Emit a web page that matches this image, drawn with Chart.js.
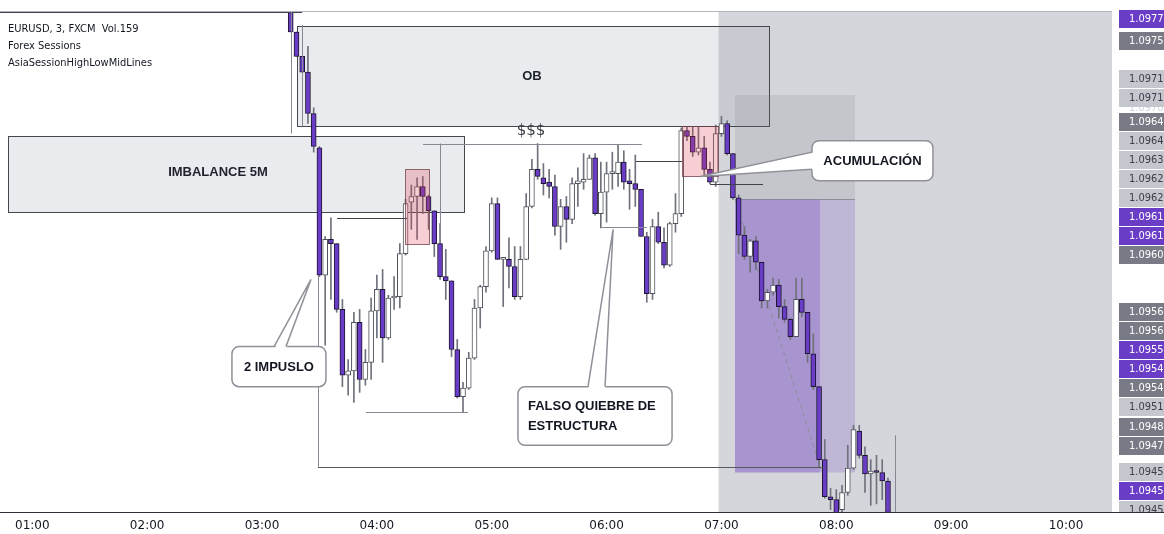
<!DOCTYPE html>
<html>
<head>
<meta charset="utf-8">
<script src="https://cdn.jsdelivr.net/npm/chart.js@4.4.1/dist/chart.umd.min.js"></script>
<style>
  html, body { margin: 0; padding: 0; background: #ffffff; }
  canvas { display: block; }
</style>
</head>
<body>
<canvas id="grafico" width="1164" height="534"></canvas>
<script>
// EURUSD 3 min, velas desde las 03:15
const inicio = 195; // minutos desde 00:00
const paso = 3;

const apertura = [
  1.09770, 1.09756, 1.09739, 1.09728, 1.09699, 1.09675, 1.09586, 1.09611, 1.09608, 1.09562,
  1.09516, 1.09519, 1.09553, 1.09513, 1.09525, 1.09561, 1.09576, 1.09542, 1.09570, 1.09571,
  1.09601, 1.09637, 1.09641, 1.09648, 1.09641, 1.09631, 1.09608, 1.09585, 1.09582, 1.09534,
  1.09501, 1.09507, 1.09528, 1.09563, 1.09578, 1.09603, 1.09636, 1.09597, 1.09597, 1.09592,
  1.09571, 1.09597, 1.09634, 1.09660, 1.09654, 1.09651, 1.09648, 1.09620, 1.09634, 1.09625,
  1.09650, 1.09651, 1.09653, 1.09668, 1.09629, 1.09644, 1.09657, 1.09657, 1.09665, 1.09652,
  1.09650, 1.09646, 1.09613, 1.09573, 1.09620, 1.09609, 1.09593, 1.09622, 1.09629, 1.09687,
  1.09683, 1.09672, 1.09675, 1.09660, 1.09651, 1.09685, 1.09692, 1.09671, 1.09640, 1.09614,
  1.09599, 1.09610, 1.09595, 1.09568, 1.09574, 1.09579, 1.09564, 1.09555, 1.09543, 1.09569,
  1.09560, 1.09531, 1.09508, 1.09457, 1.09431, 1.09429, 1.09422, 1.09434, 1.09451, 1.09477,
  1.09460, 1.09447, 1.09449, 1.09448, 1.09442
];
const maximo = [
  1.09772, 1.09756, 1.09739, 1.09746, 1.09703, 1.09676, 1.09613, 1.09626, 1.09608, 1.09569,
  1.09527, 1.09560, 1.09562, 1.09534, 1.09570, 1.09586, 1.09590, 1.09572, 1.09585, 1.09608,
  1.09639, 1.09649, 1.09654, 1.09655, 1.09642, 1.09631, 1.09622, 1.09604, 1.09582, 1.09541,
  1.09511, 1.09532, 1.09569, 1.09579, 1.09606, 1.09640, 1.09640, 1.09598, 1.09612, 1.09606,
  1.09606, 1.09643, 1.09667, 1.09678, 1.09664, 1.09660, 1.09656, 1.09639, 1.09641, 1.09654,
  1.09661, 1.09671, 1.09670, 1.09671, 1.09665, 1.09665, 1.09672, 1.09677, 1.09673, 1.09660,
  1.09670, 1.09646, 1.09616, 1.09625, 1.09630, 1.09619, 1.09623, 1.09643, 1.09689, 1.09690,
  1.09690, 1.09690, 1.09683, 1.09665, 1.09691, 1.09697, 1.09694, 1.09671, 1.09642, 1.09620,
  1.09611, 1.09613, 1.09595, 1.09576, 1.09584, 1.09583, 1.09569, 1.09556, 1.09584, 1.09584,
  1.09560, 1.09545, 1.09508, 1.09471, 1.09437, 1.09436, 1.09439, 1.09467, 1.09481, 1.09481,
  1.09466, 1.09457, 1.09460, 1.09457, 1.09444
];
const minimo = [
  1.09756, 1.09739, 1.09728, 1.09692, 1.09672, 1.09585, 1.09537, 1.09569, 1.09560, 1.09508,
  1.09502, 1.09497, 1.09504, 1.09509, 1.09513, 1.09542, 1.09525, 1.09541, 1.09562, 1.09563,
  1.09600, 1.09618, 1.09611, 1.09629, 1.09618, 1.09599, 1.09583, 1.09569, 1.09529, 1.09500,
  1.09490, 1.09506, 1.09527, 1.09549, 1.09574, 1.09602, 1.09597, 1.09564, 1.09577, 1.09569,
  1.09569, 1.09597, 1.09633, 1.09653, 1.09642, 1.09640, 1.09614, 1.09604, 1.09609, 1.09622,
  1.09634, 1.09646, 1.09653, 1.09628, 1.09619, 1.09623, 1.09646, 1.09648, 1.09646, 1.09632,
  1.09634, 1.09613, 1.09567, 1.09569, 1.09608, 1.09591, 1.09592, 1.09616, 1.09627, 1.09680,
  1.09669, 1.09670, 1.09656, 1.09650, 1.09648, 1.09683, 1.09670, 1.09639, 1.09601, 1.09597,
  1.09588, 1.09590, 1.09563, 1.09563, 1.09572, 1.09556, 1.09553, 1.09541, 1.09543, 1.09557,
  1.09525, 1.09506, 1.09452, 1.09430, 1.09422, 1.09418, 1.09420, 1.09432, 1.09450, 1.09458,
  1.09434, 1.09425, 1.09426, 1.09429, 1.09418
];
const cierre = [
  1.09756, 1.09739, 1.09728, 1.09699, 1.09676, 1.09586, 1.09611, 1.09608, 1.09562, 1.09516,
  1.09519, 1.09553, 1.09513, 1.09525, 1.09561, 1.09576, 1.09542, 1.09570, 1.09571, 1.09601,
  1.09636, 1.09641, 1.09648, 1.09641, 1.09631, 1.09608, 1.09585, 1.09582, 1.09534, 1.09501,
  1.09507, 1.09528, 1.09563, 1.09578, 1.09603, 1.09636, 1.09597, 1.09598, 1.09592, 1.09571,
  1.09597, 1.09634, 1.09660, 1.09655, 1.09650, 1.09648, 1.09620, 1.09634, 1.09625, 1.09650,
  1.09652, 1.09653, 1.09668, 1.09629, 1.09644, 1.09657, 1.09658, 1.09665, 1.09651, 1.09650,
  1.09646, 1.09613, 1.09573, 1.09620, 1.09609, 1.09593, 1.09622, 1.09629, 1.09687, 1.09683,
  1.09672, 1.09675, 1.09660, 1.09651, 1.09685, 1.09692, 1.09671, 1.09640, 1.09614, 1.09599,
  1.09610, 1.09595, 1.09568, 1.09574, 1.09579, 1.09564, 1.09555, 1.09543, 1.09569, 1.09560,
  1.09531, 1.09508, 1.09457, 1.09431, 1.09429, 1.09419, 1.09434, 1.09451, 1.09478, 1.09460,
  1.09447, 1.09449, 1.09448, 1.09442, 1.09420
];

// eje de tiempo
const horas = [60, 120, 180, 240, 300, 360, 420, 480, 540, 600];
const etiquetasHoras = ['01:00', '02:00', '03:00', '04:00', '05:00', '06:00', '07:00', '08:00', '09:00', '10:00'];

// etiquetas del eje de precios
const preciosEtiquetas = [1.09770, 1.09750, 1.09712, 1.09710, 1.09703, 1.09639, 1.09637, 1.09630, 1.09622, 1.09618,
  1.09612, 1.09608, 1.09600, 1.09560, 1.09558, 1.09551, 1.09542, 1.09538, 1.09510, 1.09480,
  1.09470, 1.09448, 1.09447, 1.09446];
const tiposEtiquetas = ['morado', 'gris', 'claro', 'claro', 'oculta', 'gris', 'claro', 'claro', 'claro', 'claro',
  'morado', 'morado', 'gris', 'gris', 'gris', 'morado', 'morado', 'gris', 'claro', 'gris',
  'gris', 'claro', 'morado', 'claro'];
const precioAncla = 1.0958;

const MORADO = '#6a3dc6';
const tiempos = apertura.map((_, i) => inicio + i * paso);
const bajista = i => cierre[i] < apertura[i];

const FUENTE = "'Liberation Sans', Arial, sans-serif";

function linea(ctx, x0, y0, x1, y1, color, ancho) {
  ctx.beginPath();
  ctx.strokeStyle = color;
  ctx.lineWidth = ancho || 1;
  ctx.moveTo(x0, y0);
  ctx.lineTo(x1, y1);
  ctx.stroke();
}

function globo(chart, g) {
  const { ctx, scales: { x, y } } = chart;
  const x0 = x.getPixelForValue(g.t0), x1 = x.getPixelForValue(g.t1);
  const y0 = y.getPixelForValue(g.p0), y1 = y.getPixelForValue(g.p1);
  const ax = x.getPixelForValue(g.cola.t), ay = y.getPixelForValue(g.cola.p);
  let b0, b1, d0, d1;
  if (g.cola.lado === 'arriba') {
    b0 = [x.getPixelForValue(g.cola.b0), y0];
    b1 = [x.getPixelForValue(g.cola.b1), y0];
    d0 = [b0[0], y0 + 3];
    d1 = [b1[0], y0 + 3];
  } else {
    b0 = [x0, y.getPixelForValue(g.cola.b0)];
    b1 = [x0, y.getPixelForValue(g.cola.b1)];
    d0 = [x0 + 3, b0[1]];
    d1 = [x0 + 3, b1[1]];
  }
  ctx.save();
  ctx.fillStyle = '#ffffff';
  ctx.strokeStyle = '#8f9199';
  ctx.lineWidth = 1.5;
  ctx.beginPath();
  ctx.roundRect(x0, y0, x1 - x0, y1 - y0, 7);
  ctx.fill();
  ctx.stroke();
  ctx.beginPath();
  ctx.moveTo(d0[0], d0[1]);
  ctx.lineTo(ax, ay);
  ctx.lineTo(d1[0], d1[1]);
  ctx.closePath();
  ctx.fill();
  ctx.beginPath();
  ctx.moveTo(b0[0], b0[1]);
  ctx.lineTo(ax, ay);
  ctx.lineTo(b1[0], b1[1]);
  ctx.stroke();
  ctx.fillStyle = '#131722';
  ctx.font = 'bold 13px ' + FUENTE;
  ctx.textBaseline = 'middle';
  const cy = (y0 + y1) / 2;
  const n = g.texto.length;
  g.texto.forEach((t, i) => {
    const ty = cy + (i - (n - 1) / 2) * 20;
    if (g.alinear === 'izq') {
      ctx.textAlign = 'left';
      ctx.fillText(t, x0 + 10, ty);
    } else {
      ctx.textAlign = 'center';
      ctx.fillText(t, (x0 + x1) / 2, ty + 1);
    }
  });
  ctx.restore();
}

const dibujos = {
  id: 'dibujos',
  beforeDatasetsDraw(chart) {
    const { ctx, chartArea: a, scales: { x, y } } = chart;
    const X = v => x.getPixelForValue(v);
    const Y = v => y.getPixelForValue(v);
    ctx.save();
    ctx.beginPath();
    ctx.rect(a.left, a.top, a.right - a.left, a.bottom - a.top);
    ctx.clip();

    // sesión de Londres (desde las 07:00)
    const xz = X(418.5);
    ctx.fillStyle = 'rgba(178,181,190,0.55)';
    ctx.fillRect(xz, a.top, a.right - xz, a.bottom - a.top);

    // cajas grises
    const cajas = [
      [47.3, 285.5, 1.09683, 1.09630],  // imbalance 5M
      [198.3, 444.8, 1.09760, 1.09690]  // OB
    ];
    cajas.forEach(c => {
      const x0 = Math.round(X(c[0])) + 0.5, x1 = Math.round(X(c[1])) + 0.5;
      const y0 = Math.round(Y(c[2])) + 0.5, y1 = Math.round(Y(c[3])) + 0.5;
      ctx.fillStyle = 'rgba(140,143,160,0.18)';
      ctx.fillRect(x0, y0, x1 - x0, y1 - y0);
      ctx.strokeStyle = '#45474f';
      ctx.lineWidth = 1;
      ctx.strokeRect(x0, y0, x1 - x0, y1 - y0);
    });

    // posición corta
    const p0 = X(427.1), p1 = X(489.8), pm = X(471.5);
    const ye = Y(1.09639), ys = Y(1.09712), yo = Y(1.09448);
    ctx.fillStyle = 'rgba(120,123,134,0.18)';
    ctx.fillRect(p0, ys, p1 - p0, ye - ys);
    ctx.fillStyle = 'rgba(126,87,194,0.26)';
    ctx.fillRect(p0, ye, p1 - p0, yo - ye);
    ctx.fillStyle = 'rgba(126,87,194,0.35)';
    ctx.fillRect(p0, ye, pm - p0, yo - ye);
    linea(ctx, p0, Math.round(ye) + 0.5, p1, Math.round(ye) + 0.5, 'rgba(120,123,134,0.7)', 1);
    ctx.setLineDash([4, 4]);
    linea(ctx, X(427.1), ye, X(472.0), Y(1.09450), '#8a8d96', 1);
    ctx.setLineDash([]);
    ctx.restore();
  },
  afterDatasetsDraw(chart) {
    const { ctx, chartArea: a, scales: { x, y } } = chart;
    const X = v => x.getPixelForValue(v);
    const Y = v => y.getPixelForValue(v);
    const R = v => Math.round(v) + 0.5;
    ctx.save();
    ctx.beginPath();
    ctx.rect(a.left, a.top - 1, a.right - a.left, a.bottom - a.top + 1);
    ctx.clip();

    // cajas rosadas
    [[254.7, 267.2, 1.09660, 1.09608], [399.4, 418.2, 1.09690, 1.09655]].forEach(c => {
      const x0 = R(X(c[0])), x1 = R(X(c[1])), y0 = R(Y(c[2])), y1 = R(Y(c[3]));
      ctx.fillStyle = 'rgba(225,60,80,0.25)';
      ctx.fillRect(x0, y0, x1 - x0, y1 - y0);
      ctx.strokeStyle = 'rgba(110,60,68,0.75)';
      ctx.lineWidth = 1;
      ctx.strokeRect(x0, y0, x1 - x0, y1 - y0);
    });

    // líneas
    const oscuro = '#3f424b', gris = '#868993';
    linea(ctx, a.left, R(a.top) - 1, a.right, R(a.top) - 1, '#b2b5be', 1);
    const lineas = [
      [x.min, 1.09770, 201.0, 1.09770, oscuro],
      [195.1, 1.09770, 195.1, 1.09685, gris],
      [200.9, 1.09761, 200.9, 1.09690, gris],
      [219.2, 1.09626, 255.7, 1.09626, oscuro],
      [264.1, 1.09678, 378.5, 1.09678, gris],
      [273.0, 1.09678, 273.0, 1.09611, gris],
      [375.4, 1.09666, 399.4, 1.09666, oscuro],
      [357.6, 1.09620, 381.1, 1.09620, gris],
      [234.3, 1.09490, 287.6, 1.09490, gris],
      [209.2, 1.09452, 474.6, 1.09452, '#55585f'],
      [209.2, 1.09586, 209.2, 1.09452, gris],
      [414.0, 1.09650, 441.7, 1.09650, oscuro],
      [510.7, 1.09474, 510.7, 1.09420, gris]
    ];
    lineas.forEach(l => {
      const x0 = X(l[0]), x1 = X(l[2]), y0 = Y(l[1]), y1 = Y(l[3]);
      if (y0 === y1) linea(ctx, x0, R(y0), x1, R(y1), l[4], 1);
      else linea(ctx, R(x0), y0, R(x1), y1, l[4], 1);
    });

    // textos
    ctx.fillStyle = '#1e222d';
    ctx.textAlign = 'center';
    ctx.textBaseline = 'middle';
    ctx.font = 'bold 13px ' + FUENTE;
    ctx.fillText('OB', X(321.0), Y(1.09725));
    ctx.fillText('IMBALANCE 5M', X(157.0), Y(1.09658));
    ctx.font = "15px 'DejaVu Sans', sans-serif";
    ctx.fillStyle = '#3f424b';
    ctx.fillText('$$$', X(320.5), Y(1.09687));
    ctx.restore();

    // globos
    globo(chart, { t0: 164.3, t1: 213.4, p0: 1.09536, p1: 1.09508, texto: ['2 IMPUSLO'],
      cola: { lado: 'arriba', b0: 186.3, b1: 192.5, t: 205.6, p: 1.09583 } });
    globo(chart, { t0: 313.7, t1: 394.2, p0: 1.09508, p1: 1.09467, texto: ['FALSO QUIEBRE DE', 'ESTRUCTURA'], alinear: 'izq',
      cola: { lado: 'arriba', b0: 350.3, b1: 359.2, t: 363.4, p: 1.09618 } });
    globo(chart, { t0: 467.3, t1: 530.5, p0: 1.09680, p1: 1.09652, texto: ['ACUMULACIÓN'],
      cola: { lado: 'izq', b0: 1.09672, b1: 1.09660, t: 408.8, p: 1.09655 } });
  },
  afterDraw(chart) {
    const { ctx, chartArea: a, scales: { y } } = chart;
    ctx.save();
    // leyenda
    ctx.fillStyle = '#131722';
    ctx.textAlign = 'left';
    ctx.textBaseline = 'middle';
    ctx.font = "11px 'DejaVu Sans Condensed', 'Liberation Sans Narrow', sans-serif";
    ctx.fillText('EURUSD, 3, FXCM  Vol.159', 8, 29);
    ctx.fillText('Forex Sessions', 8, 46);
    ctx.fillText('AsiaSessionHighLowMidLines', 8, 63);

    // etiquetas de precio apiladas
    const alto = 19;
    const ancla = y.getPixelForValue(precioAncla);
    const items = preciosEtiquetas.map((p, i) => ({ p, tipo: tiposEtiquetas[i], y: y.getPixelForValue(p) }));
    const pila = items.filter(e => e.tipo !== 'oculta');
    const arriba = pila.filter(e => e.y <= ancla).sort((m, n) => n.y - m.y);
    arriba.forEach((e, i) => { e.pos = i === 0 ? e.y : Math.min(e.y, arriba[i - 1].pos - alto); });
    arriba.reverse();
    arriba.forEach((e, i) => { e.pos = i === 0 ? Math.max(e.pos, a.top + 6.5) : Math.max(e.pos, arriba[i - 1].pos + alto); });
    const abajo = pila.filter(e => e.y > ancla).sort((m, n) => m.y - n.y);
    abajo.forEach((e, i) => { e.pos = i === 0 ? e.y : Math.max(e.y, abajo[i - 1].pos + alto); });
    items.filter(e => e.tipo === 'oculta').forEach(e => { e.pos = e.y; });

    const estilos = {
      morado: ['#6a3dc6', '#ffffff'],
      gris: ['#787b86', '#ffffff'],
      claro: ['#c5c7ce', '#3b3e47'],
      oculta: ['#ffffff', '#d1d4dc']
    };
    ctx.beginPath();
    ctx.rect(a.right, 0, chart.width - a.right, a.bottom);
    ctx.clip();
    ctx.font = "11px 'DejaVu Sans Condensed', 'Liberation Sans Narrow', sans-serif";
    const orden = items.filter(e => e.tipo === 'oculta').concat(items.filter(e => e.tipo !== 'oculta'));
    orden.forEach(e => {
      const [bg, fg] = estilos[e.tipo];
      const top = Math.round(e.pos - 9);
      ctx.fillStyle = bg;
      ctx.fillRect(a.right + 7, top, chart.width - a.right - 7, 18);
      if (e.tipo === 'oculta') {
        ctx.fillStyle = '#131722';
        ctx.fillRect(a.right + 7, top, chart.width - a.right - 7, 2);
      }
      ctx.fillStyle = fg;
      ctx.fillText(e.p.toFixed(4), a.right + 17, top + 9.5);
    });
    ctx.restore();

    // línea del eje de tiempo
    linea(ctx, 0, a.bottom + 0.5, chart.width, a.bottom + 0.5, '#2a2e39', 1);
  }
};

new Chart(document.getElementById('grafico'), {
  type: 'bar',
  data: {
    datasets: [
      {
        label: 'mechas',
        data: tiempos.map((t, i) => ({ x: t, y: [minimo[i], maximo[i]] })),
        backgroundColor: '#6f727c',
        barThickness: 1,
        grouped: false,
        order: 2
      },
      {
        label: 'cuerpos',
        data: tiempos.map((t, i) => ({ x: t, y: [apertura[i], cierre[i]] })),
        backgroundColor: c => bajista(c.dataIndex) ? MORADO : '#ffffff',
        borderColor: c => bajista(c.dataIndex) ? '#1d1530' : '#50535c',
        borderWidth: 1,
        borderSkipped: false,
        barThickness: 5,
        minBarLength: 2,
        grouped: false,
        order: 1
      }
    ]
  },
  options: {
    responsive: false,
    animation: false,
    devicePixelRatio: 1,
    layout: { padding: { top: 12, left: 0, right: 0, bottom: 0 } },
    plugins: { legend: { display: false }, tooltip: { enabled: false } },
    scales: {
      x: {
        type: 'linear',
        offset: false,
        min: 43.13,
        max: 624.03,
        grid: { display: false, drawTicks: false },
        border: { display: false },
        afterBuildTicks: s => { s.ticks = horas.map(v => ({ value: v })); },
        afterFit: s => { s.height = 22; },
        ticks: {
          autoSkip: false,
          maxRotation: 0,
          padding: 7,
          color: '#131722',
          font: { family: "'DejaVu Sans', sans-serif", size: 12 },
          callback: v => etiquetasHoras[horas.indexOf(v)]
        }
      },
      y: {
        type: 'linear',
        position: 'right',
        min: 1.0942035,
        max: 1.0977,
        beginAtZero: false,
        grid: { display: false },
        border: { display: false },
        ticks: { display: false },
        afterFit: s => { s.width = 52; }
      }
    }
  },
  plugins: [dibujos]
});
</script>
</body>
</html>
